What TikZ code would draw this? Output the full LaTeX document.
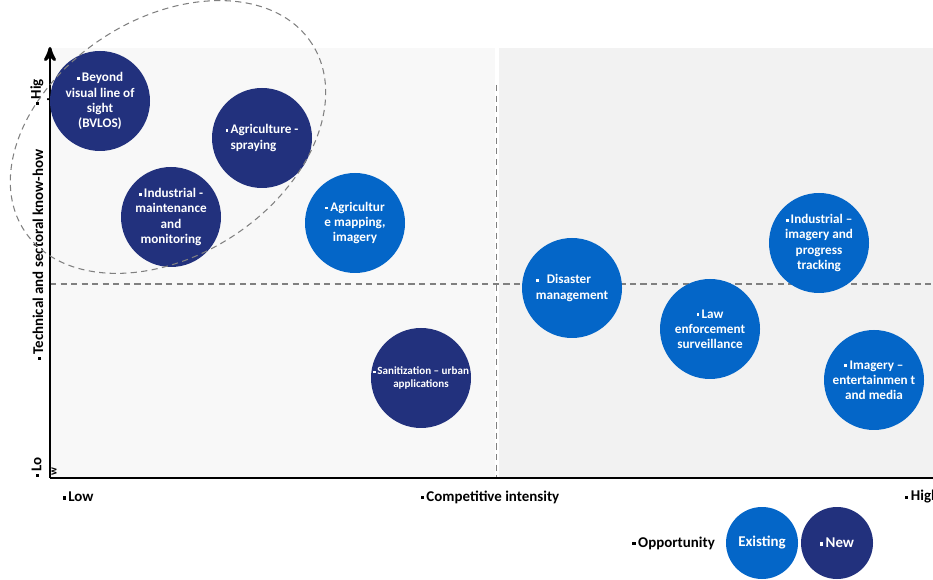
\documentclass[tikz,border=0pt]{standalone}
\usepackage{fontspec}
\setmainfont{Carlito}
\usepackage{tikz}
\usetikzlibrary{arrows}
\definecolor{navy}{HTML}{22317D}
\definecolor{midblue}{HTML}{0466C8}
\definecolor{paneA}{HTML}{F8F8F8}
\definecolor{paneB}{HTML}{F2F2F2}
\newcommand{\sq}{\rule[0.3ex]{0.45ex}{0.45ex}\,}

\begin{document}
\begin{tikzpicture}[>=stealth,
	opp/.style={circle, minimum size=2cm, inner sep=0pt, text=white, align=center,
		font=\bfseries\fontsize{7.5}{8.6}\selectfont},
	newopp/.style={opp, fill=navy},
	oldopp/.style={opp, fill=midblue},
	lbl/.style={font=\bfseries\fontsize{8.5}{10}\selectfont},
	guide/.style={gray, line width=0.7pt, dash pattern=on 3.5pt off 2.5pt}]
	\useasboundingbox (0,0) rectangle (18.66,11.58);
	% panes
	\fill[paneA] (1,2.02) rectangle (9.9,10.62);
	\fill[paneB] (9.97,2.02) rectangle (18.66,10.62);
	\coordinate (o) at (1,2.02);
	\coordinate (ytop) at (1,10.64);
	\coordinate (xend) at (18.66,2.02);
	\coordinate (vtop) at (9.93,9.88);
	\coordinate (vbot) at (9.93,2.02);
	\coordinate (hl) at (1,5.9);
	\coordinate (hr) at (18.66,5.9);
	\draw[guide] (vtop) -- (vbot);
	\draw[guide] (hl) -- (hr);
	% axes
	\draw[line width=1.7pt, ->, >=stealth'] (o) -- (ytop);
	\draw[line width=1.7pt] (o) -- (xend);
	\node (yname) at (0.76,6.48) [lbl, rotate=90] {\sq Technical and sectoral know-how};
	\node (yhi) at (0.74,9.74) [lbl, rotate=90] {\sq Hig};
	\node (yhi2) at (1.05,9.62) [lbl, rotate=90, inner sep=0pt] {h};
	\node (ylo) at (0.73,2.24) [lbl, rotate=90] {\sq Lo};
	\node (ylo2) at (1.08,2.14) [lbl, rotate=90, inner sep=0pt, font=\bfseries\fontsize{6}{7}\selectfont] {w};
	\node (xlo) at (1.56,1.64) [lbl] {\sq Low};
	\node (xname) at (9.8,1.64) [lbl] {\sq Competitive intensity};
	\node (xhi) at (17.98,1.64) [lbl, anchor=west] {\sq High};
	% new opportunities
	\node (bvlos) at (2.0,9.56) [newopp] {\sq Beyond\\visual line of\\sight\\(BVLOS)};
	\node (spray) at (5.24,8.82) [newopp, align=left] {\sq Agriculture -\\\phantom{\sq}spraying};
	\node (maint) at (3.42,7.24) [newopp] {\sq Industrial -\\maintenance\\and\\monitoring};
	\node (sanit) at (8.42,4.02) [newopp, font=\bfseries\fontsize{6.3}{7.2}\selectfont] {\sq Sanitization -- urban\\applications};
	% existing opportunities
	\node (agmap) at (7.10,7.12) [oldopp] {\sq Agricultur\\e mapping,\\imagery};
	\node (disas) at (11.44,5.82) [oldopp, align=left] {\sq\ \ Disaster\\management};
	\node (law) at (14.20,5.00) [oldopp] {\sq Law\\enforcement\\surveillance};
	\node (indimg) at (16.38,6.72) [oldopp] {\sq Industrial --\\imagery and\\progress\\tracking};
	\node (ent) at (17.48,3.98) [oldopp] {\sq Imagery --\\entertainmen t\\and media};
	% cluster of new opportunities
	\coordinate (cl) at (3.36,8.84);
	\draw[guide, line width=0.6pt, rotate around={33:(cl)}] (cl) ellipse [x radius=3.43, y radius=2.37];
	% legend
	\node (legname) at (14.42,0.72) [lbl, anchor=east] {\sq Opportunity};
	\node (legold) at (15.24,0.72) [oldopp, minimum size=1.44cm, font=\bfseries\fontsize{8.5}{10}\selectfont] {Existing};
	\node (legnew) at (16.74,0.72) [newopp, minimum size=1.44cm, font=\bfseries\fontsize{8.5}{10}\selectfont] {\sq New};
\end{tikzpicture}
\end{document}
